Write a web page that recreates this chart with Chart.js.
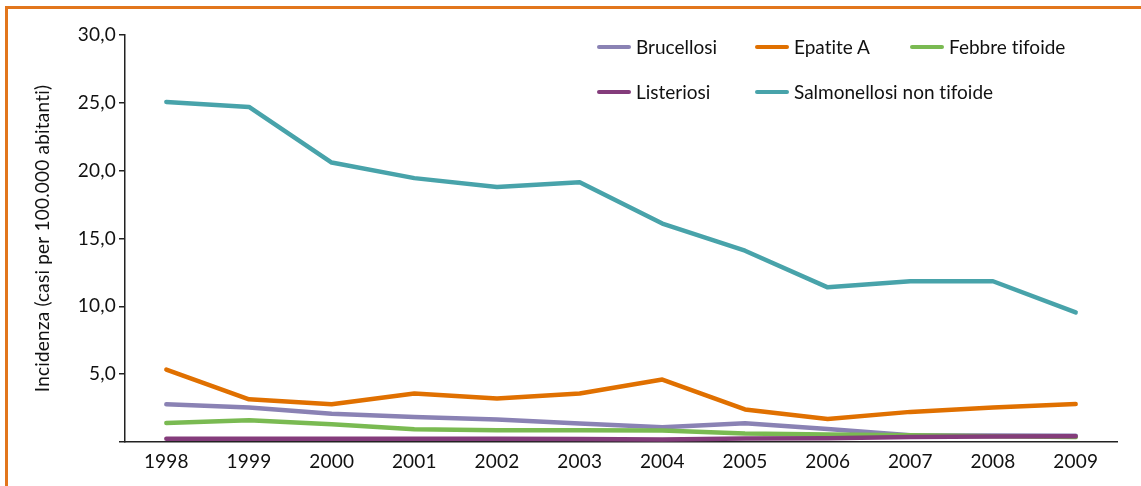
<!DOCTYPE html>
<html>
<head>
<meta charset="utf-8">
<script src="https://cdn.jsdelivr.net/npm/chart.js@4"></script>
<style>
  html, body { margin: 0; padding: 0; background: #fff; width: 1141px; height: 486px; overflow: hidden; }
  #frame { position: absolute; left: 5px; top: 6px; width: 1200px; height: 600px;
           border-top: 3px solid #e2761c; border-left: 3px solid #e2761c; }
  #wrap { position: absolute; left: 0; top: 0; width: 1141px; height: 486px; }
  .leg { position: absolute; font-family: Lato, sans-serif; font-size: 19px; color: #111;
         line-height: 20px; white-space: nowrap; font-variant-ligatures: none; }
  .leg .sw { position: absolute; left: 0; top: 8px; width: 34px; height: 4px; border-radius: 2px; }
  .leg .tx { position: absolute; left: 39px; top: 0; }
</style>
</head>
<body>
<div id="frame"></div>
<div id="wrap"><canvas id="c" width="1141" height="486"></canvas></div>
<div id="legend"></div>
<script>
const categories = ['1998','1999','2000','2001','2002','2003','2004','2005','2006','2007','2008','2009'];
const seriesNames = ['Brucellosi','Epatite A','Febbre tifoide','Listeriosi','Salmonellosi non tifoide'];
const brucellosi   = [2.78, 2.54, 2.09, 1.84, 1.65, 1.36, 1.08, 1.38, 0.95, 0.50, 0.48, 0.46];
const epatiteA     = [5.34, 3.15, 2.78, 3.57, 3.20, 3.57, 4.60, 2.40, 1.70, 2.22, 2.55, 2.80];
const febbreTifoide= [1.40, 1.60, 1.30, 0.94, 0.86, 0.86, 0.84, 0.62, 0.56, 0.50, 0.42, 0.36];
const listeriosi   = [0.24, 0.24, 0.24, 0.24, 0.24, 0.22, 0.18, 0.26, 0.28, 0.36, 0.40, 0.42];
const salmonellosi = [25.07, 24.70, 20.60, 19.45, 18.80, 19.15, 16.10, 14.10, 11.40, 11.85, 11.85, 9.55];
const yTicks = [0, 5, 10, 15, 20, 25, 30];
const yTitle = 'Incidenza (casi per 100.000 abitanti)';

const colors = ['#8a82b4', '#e07000', '#7aba52', '#843c7b', '#48a3aa'];
const seriesData = [brucellosi, epatiteA, febbreTifoide, listeriosi, salmonellosi];

// legend (two rows, three fixed columns)
const legPos = [[597, 37], [755, 37], [910, 37], [597, 82], [755, 82]];
const legend = document.getElementById('legend');
seriesNames.forEach((n, i) => {
  const d = document.createElement('div');
  d.className = 'leg';
  d.style.left = legPos[i][0] + 'px';
  d.style.top = legPos[i][1] + 'px';
  d.innerHTML = '<span class="sw" style="background:' + colors[i] + '"></span><span class="tx">' + n + '</span>';
  legend.appendChild(d);
});

const noLigatures = {
  id: 'noLigatures',
  beforeDraw(chart) { if ('letterSpacing' in chart.ctx) chart.ctx.letterSpacing = '0.2px'; }
};

function draw() {
  new Chart(document.getElementById('c'), {
    type: 'line',
    plugins: [noLigatures],
    data: {
      labels: categories,
      datasets: seriesNames.map((n, i) => ({
        label: n,
        data: seriesData[i],
        borderColor: colors[i],
        backgroundColor: colors[i],
        borderWidth: 4.5,
        pointRadius: 0,
        borderCapStyle: 'round',
        borderJoinStyle: 'round',
        tension: 0,
        order: 5 - i
      }))
    },
    options: {
      responsive: false,
      animation: false,
      devicePixelRatio: 1,
      layout: { padding: { left: 0, top: 35, right: 24, bottom: 0 } },
      plugins: { legend: { display: false }, tooltip: { enabled: false } },
      scales: {
        x: {
          offset: true,
          grid: { display: false, drawTicks: false },
          border: { display: true, color: '#222', width: 1.5 },
          ticks: { color: '#111', font: { family: 'Lato', size: 19 }, padding: 8, maxRotation: 0 },
          afterFit: s => { s.height = 44; }
        },
        y: {
          min: 0, max: 30,
          afterBuildTicks: s => { s.ticks = yTicks.map(v => ({ value: v })); },
          grid: { drawOnChartArea: false, drawTicks: true, tickLength: 6, color: '#222', lineWidth: 1.5 },
          border: { display: true, color: '#222', width: 1.5 },
          ticks: {
            color: '#111', font: { family: 'Lato', size: 19 }, padding: 3,
            callback: v => v === 0 ? '' : v.toFixed(1).replace('.', ',')
          },
          title: {
            display: true, text: yTitle, color: '#111',
            font: { family: 'Lato', size: 19 }, padding: { top: 31, bottom: 0 }
          },
          afterFit: s => { s.width = 125; }
        }
      }
    }
  });
}
if (document.fonts && document.fonts.load) {
  document.fonts.load('19px Lato').then(draw, draw);
} else { draw(); }
</script>
</body>
</html>
